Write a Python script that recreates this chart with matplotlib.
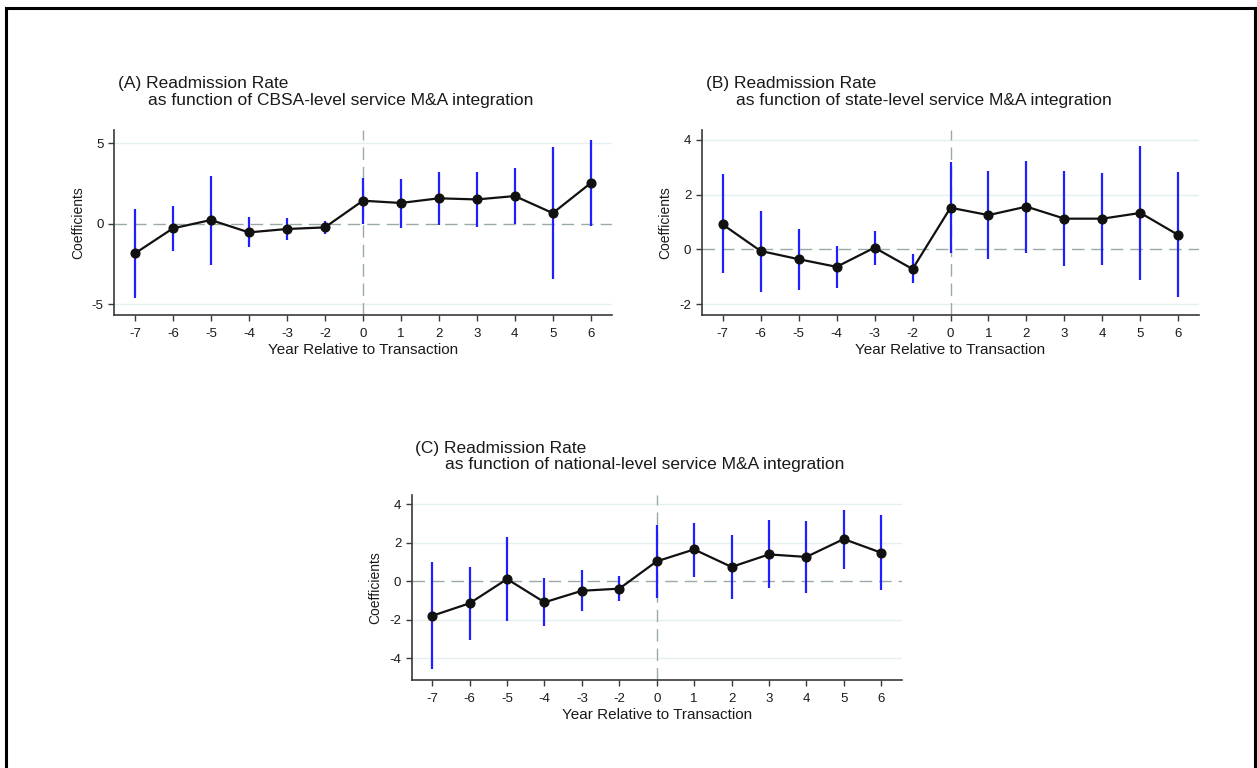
import matplotlib
matplotlib.use("Agg")
import matplotlib.pyplot as plt
from matplotlib.lines import Line2D

plt.rcParams['font.family'] = ['Liberation Sans', 'DejaVu Sans']

years = [-7, -6, -5, -4, -3, -2, 0, 1, 2, 3, 4, 5, 6]
xtick_labels = ['-7', '-6', '-5', '-4', '-3', '-2', '0', '1', '2', '3', '4', '5', '6']

# Panel A: CBSA-level
coef_a = [-1.85, -0.29, 0.23, -0.54, -0.33, -0.23, 1.43, 1.29, 1.58, 1.51, 1.72, 0.66, 2.53]
lo_a = [-4.60, -1.68, -2.55, -1.47, -1.04, -0.62, 0.00, -0.29, -0.10, -0.21, 0.00, -3.44, -0.12]
hi_a = [0.89, 1.10, 2.97, 0.41, 0.35, 0.15, 2.86, 2.80, 3.24, 3.24, 3.46, 4.79, 5.19]
yticks_a = [-5, 0, 5]

# Panel B: state-level
coef_b = [0.91, -0.06, -0.36, -0.64, 0.06, -0.72, 1.52, 1.25, 1.56, 1.12, 1.12, 1.33, 0.52]
lo_b = [-0.88, -1.55, -1.48, -1.42, -0.58, -1.24, -0.15, -0.36, -0.13, -0.62, -0.57, -1.13, -1.75]
hi_b = [2.74, 1.40, 0.74, 0.13, 0.67, -0.17, 3.18, 2.88, 3.24, 2.87, 2.79, 3.77, 2.81]
yticks_b = [-2, 0, 2, 4]

# Panel C: national-level
coef_c = [-1.79, -1.14, 0.12, -1.09, -0.49, -0.38, 1.04, 1.66, 0.75, 1.40, 1.27, 2.20, 1.49]
lo_c = [-4.54, -3.05, -2.05, -2.34, -1.56, -1.01, -0.85, 0.24, -0.92, -0.35, -0.62, 0.64, -0.47]
hi_c = [0.99, 0.73, 2.29, 0.16, 0.57, 0.28, 2.93, 3.05, 2.41, 3.19, 3.14, 3.69, 3.45]
yticks_c = [-4, -2, 0, 2, 4]

title_a1 = "(A) Readmission Rate"
title_a2 = "as function of CBSA-level service M&A integration"
title_b1 = "(B) Readmission Rate"
title_b2 = "as function of state-level service M&A integration"
title_c1 = "(C) Readmission Rate"
title_c2 = "as function of national-level service M&A integration"
xlabel = "Year Relative to Transaction"
ylabel = "Coefficients"

W, H = 1257, 768
fig = plt.figure(figsize=(W / 100, H / 100), dpi=100)
fig.patch.set_facecolor('white')

# figure frame lines (left, top, right)
for xs, ys in [([6.0, 6.0], [7.5, 768]), ([6.0, 1255], [7.5, 7.5]), ([1255, 1255], [7.5, 768])]:
    fig.add_artist(Line2D([x / W for x in xs], [1 - y / H for y in ys],
                          transform=fig.transFigure, color='black', lw=2.2,
                          solid_capstyle='projecting'))

def px_axes(l, r, t, b):
    return fig.add_axes([l / W, 1 - b / H, (r - l) / W, (b - t) / H])

TXT = '#1a1a1a'
GRID = '#e6eff0'
REF = '#9aaba3'

pos = list(range(len(years)))
zero_pos = years.index(0)

def panel(ax, coef, lo, hi, yticks, ylim, t1, t2, tx, ty):
    ax.set_xlim(-0.55, len(years) - 1 + 0.55)
    ax.set_ylim(*ylim)
    for v in yticks:
        if v != 0:
            ax.axhline(v, color=GRID, lw=1.0, zorder=0)
    ax.axhline(0, color=REF, lw=1.0, dashes=(9, 5), zorder=1)
    ax.axvline(zero_pos, color=REF, lw=1.0, dashes=(9, 5), zorder=1)
    ax.vlines(pos, lo, hi, color='#1f1fff', lw=1.6, zorder=2)
    ax.plot(pos, coef, color='#111111', lw=1.6, marker='o', ms=6.3,
            mfc='#111111', mec='#111111', zorder=3)
    for s in ['top', 'right']:
        ax.spines[s].set_visible(False)
    for s in ['left', 'bottom']:
        ax.spines[s].set_color('#3a3a3a')
        ax.spines[s].set_linewidth(1.2)
    ax.set_xticks(pos)
    ax.set_xticklabels(xtick_labels)
    ax.set_yticks(yticks)
    ax.set_yticklabels([str(v) for v in yticks])
    ax.tick_params(axis='both', labelsize=9.5, colors='#3a3a3a', labelcolor=TXT,
                   length=4.5, width=1.0, direction='out', pad=3)
    ax.tick_params(axis='x', pad=5)
    ax.set_xlabel(xlabel, fontsize=11, color=TXT, labelpad=2)
    ax.set_ylabel(ylabel, fontsize=10, color=TXT, labelpad=5)
    fig.text(tx / W, 1 - ty / H, t1, fontsize=12.5, color=TXT, va='baseline', ha='left')
    fig.text((tx + 30) / W, 1 - (ty + 16.5) / H, t2, fontsize=12.5, color=TXT,
             va='baseline', ha='left')

ax_a = px_axes(114, 611.7, 130, 315)
panel(ax_a, coef_a, lo_a, hi_a, yticks_a, (-5.68, 5.83), title_a1, title_a2, 118, 88)

ax_b = px_axes(701.7, 1199.3, 130, 315)
panel(ax_b, coef_b, lo_b, hi_b, yticks_b, (-2.40, 4.36), title_b1, title_b2, 706, 88)

ax_c = px_axes(411.7, 901.7, 495, 680)
panel(ax_c, coef_c, lo_c, hi_c, yticks_c, (-5.13, 4.49), title_c1, title_c2, 415, 453)

fig.savefig('out.png', dpi=100, facecolor='white')
